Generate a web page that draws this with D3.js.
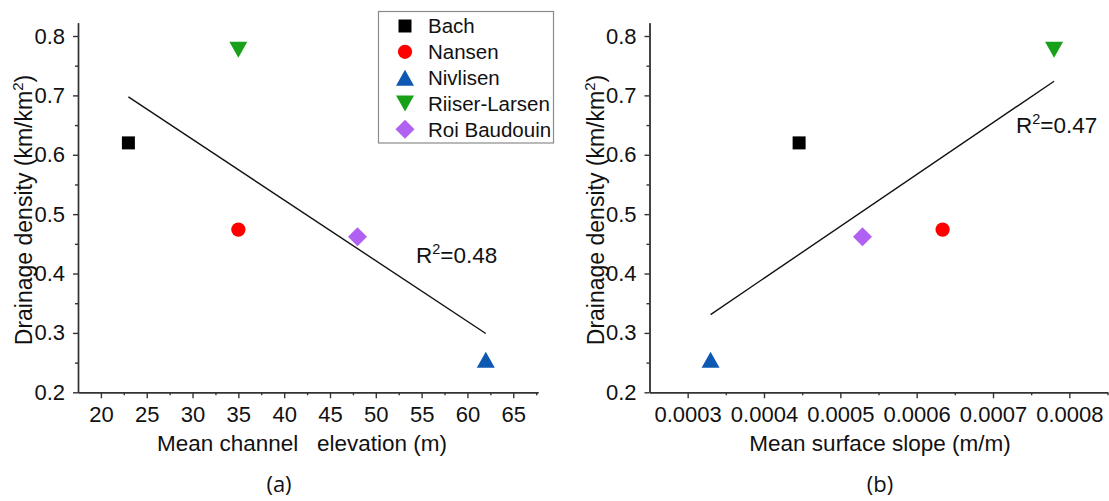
<!DOCTYPE html>
<html>
<head>
<meta charset="utf-8">
<script src="https://cdn.jsdelivr.net/npm/d3@7"></script>
<style>
  html, body { margin: 0; padding: 0; background: #fff; }
  svg { display: block; }
  text { font-family: "Liberation Sans", Arial, sans-serif; fill: #111; }
</style>
</head>
<body>
<svg id="chart" width="1109" height="501"></svg>
<script>
// ---------- data ----------
const categories = ["Bach", "Nansen", "Nivlisen", "Riiser-Larsen", "Roi Baudouin"];
const shapes = ["square", "circle", "triangleUp", "triangleDown", "diamond"];
const colors = ["#000000", "#ff0000", "#0d58b2", "#18a018", "#b061f2"];
const elevation = [23, 35, 62, 35, 48];                              // m
const slope = [0.000446, 0.000634, 0.00033, 0.00078, 0.000529];     // m/m
const density = [0.62, 0.474, 0.255, 0.777, 0.462];                 // km/km2
const densityTicks = [0.2, 0.3, 0.4, 0.5, 0.6, 0.7, 0.8];
const densityMinor = [0.25, 0.35, 0.45, 0.55, 0.65, 0.75];
const elevTicks = [20, 25, 30, 35, 40, 45, 50, 55, 60, 65];
const elevMinor = [22.5, 27.5, 32.5, 37.5, 42.5, 47.5, 52.5, 57.5, 62.5, 67.5];
const slopeTicks = [0.0003, 0.0004, 0.0005, 0.0006, 0.0007, 0.0008];
const slopeMinor = [0.00035, 0.00045, 0.00055, 0.00065, 0.00075, 0.00085];
const r2Values = ["0.48", "0.47"];
const panelLabels = ["(a)", "(b)"];
const xTitles = ["Mean channel   elevation (m)", "Mean surface slope (m/m)"];

// ---------- setup ----------
const svg = d3.select("#chart");
const axisColor = "#333";
const tickFont = 22;

const y = d3.scaleLinear().domain([0.2, 0.8224]).range([392.3, 22.7]);
const xa = d3.scaleLinear().domain([17.5, 67.7]).range([78, 538]);
const xb = d3.scaleLinear().domain([0.00025, 0.00085]).range([649.5, 1107.5]);

function markerPath(shape) {
  switch (shape) {
    case "square": return "M-6.5,-6.5H6.5V6.5H-6.5Z";
    case "circle": return d3.symbol(d3.symbolCircle, 160)();
    case "triangleUp": return "M0,-8L9,8H-9Z";
    case "triangleDown": return "M0,8L9,-8H-9Z";
    case "diamond": return "M0,-9.5L9.5,0L0,9.5L-9.5,0Z";
  }
}

function styleAxis(g) {
  g.selectAll("path.domain").attr("stroke", axisColor).attr("stroke-width", 1.4);
  g.selectAll(".tick line").attr("stroke", axisColor).attr("stroke-width", 1.4);
  g.selectAll(".tick text").style("font-size", tickFont + "px")
    .style("font-family", "'Liberation Sans', Arial, sans-serif").attr("fill", "#111");
}

function fit(xs, ys) {
  const mx = d3.mean(xs), my = d3.mean(ys);
  let sxy = 0, sxx = 0;
  xs.forEach((v, i) => { sxy += (v - mx) * (ys[i] - my); sxx += (v - mx) * (v - mx); });
  const b = sxy / sxx;
  return v => my + b * (v - mx);
}

function panel(x, xs, majors, minors, fmt, r2, r2pos, label, labelX, xTitle, xTitleX, yTitleX) {
  const g = svg.append("g");
  // minor ticks
  g.append("g").attr("transform", `translate(${x.range()[0]},0)`)
    .call(d3.axisLeft(y).tickValues(densityMinor).tickSize(3).tickSizeOuter(0).tickFormat(""))
    .call(styleAxis);
  g.append("g").attr("transform", `translate(0,${y.range()[0]})`)
    .call(d3.axisBottom(x).tickValues(minors).tickSize(3).tickSizeOuter(0).tickFormat(""))
    .call(styleAxis);
  // major axes
  g.append("g").attr("transform", `translate(${x.range()[0]},0)`)
    .call(d3.axisLeft(y).tickValues(densityTicks).tickSize(5).tickSizeOuter(0).tickPadding(8).tickFormat(d3.format(".1f")))
    .call(styleAxis);
  g.append("g").attr("transform", `translate(0,${y.range()[0]})`)
    .call(d3.axisBottom(x).tickValues(majors).tickSize(6).tickSizeOuter(0).tickPadding(8).tickFormat(fmt))
    .call(styleAxis);

  // regression line
  const f = fit(xs, density);
  const [x0, x1] = d3.extent(xs);
  g.append("line")
    .attr("x1", x(x0)).attr("y1", y(f(x0)))
    .attr("x2", x(x1)).attr("y2", y(f(x1)))
    .attr("stroke", "#111").attr("stroke-width", 1.4);

  // points
  g.selectAll("path.pt").data(categories).enter().append("path")
    .attr("class", "pt")
    .attr("d", (d, i) => markerPath(shapes[i]))
    .attr("fill", (d, i) => colors[i])
    .attr("transform", (d, i) => `translate(${x(xs[i])},${y(density[i])})`);

  // R2 label
  const t = g.append("text").attr("x", r2pos[0]).attr("y", r2pos[1]).style("font-size", "22.5px");
  t.append("tspan").text("R");
  t.append("tspan").text("2").attr("dy", -9).style("font-size", "14.5px");
  t.append("tspan").text("=" + r2).attr("dy", 9);

  // y title
  const yt = g.append("text")
    .attr("transform", `translate(${yTitleX},210) rotate(-90)`)
    .attr("text-anchor", "middle").style("font-size", "23px");
  yt.append("tspan").text("Drainage density (km/km");
  yt.append("tspan").text("2").attr("dy", -9).style("font-size", "15px");
  yt.append("tspan").text(")").attr("dy", 9);

  // x title
  g.append("text").attr("x", xTitleX).attr("y", 451).attr("text-anchor", "middle")
    .style("font-size", "22.5px").style("white-space", "pre").text(xTitle);

  // panel label
  g.append("text").attr("x", labelX).attr("y", 492).attr("text-anchor", "middle")
    .style("font-family", "'Open Sans', sans-serif").style("font-size", "22px").text(label);
}

panel(xa, elevation, elevTicks, elevMinor, d3.format("d"), r2Values[0], [416, 263],
  panelLabels[0], 279, xTitles[0], 302, 32);
panel(xb, slope, slopeTicks, slopeMinor, d3.format(".4f"), r2Values[1], [1016, 133],
  panelLabels[1], 880, xTitles[1], 880, 604);

// ---------- legend ----------
const leg = svg.append("g");
leg.append("rect").attr("x", 378.5).attr("y", 11.5).attr("width", 175).attr("height", 131.5)
  .attr("fill", "#fff").attr("stroke", "#8a8a8a").attr("stroke-width", 1.2);
const rowY = d3.scalePoint().domain(categories).range([26, 129.3]);
categories.forEach((c, i) => {
  leg.append("path").attr("d", markerPath(shapes[i])).attr("fill", colors[i])
    .attr("transform", `translate(405,${rowY(c)})`);
  leg.append("text").attr("x", 428).attr("y", rowY(c)).attr("dy", "0.36em")
    .style("font-size", "20.5px").text(c);
});
</script>
</body>
</html>
